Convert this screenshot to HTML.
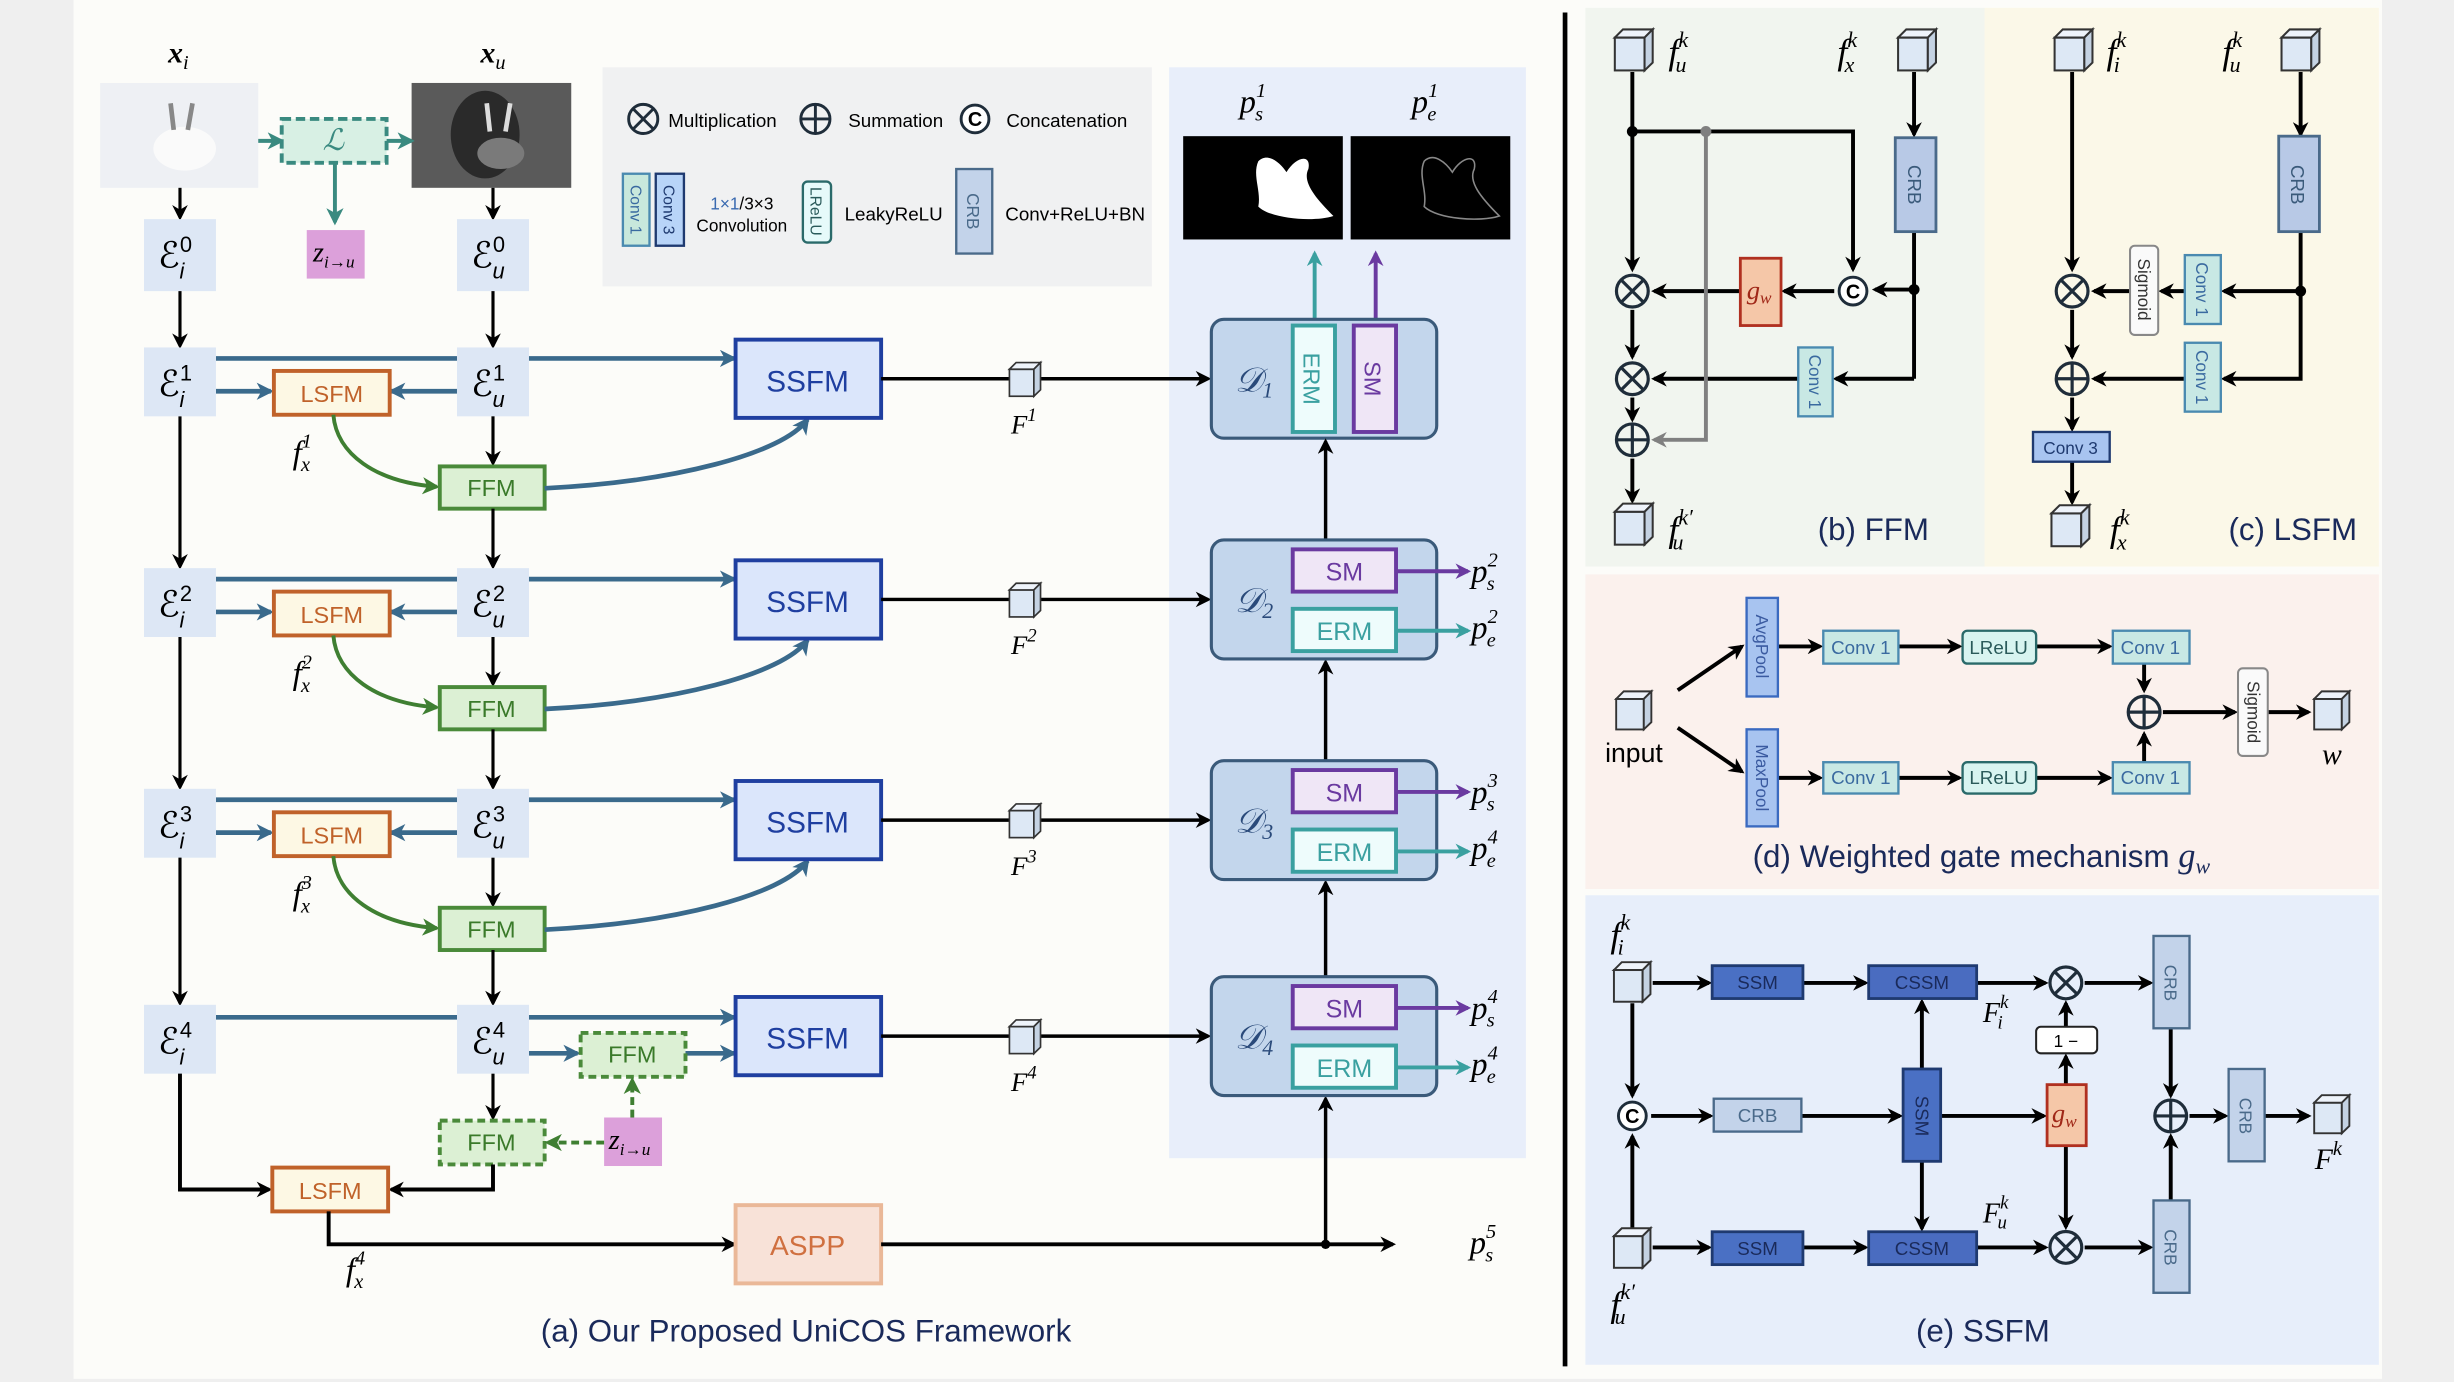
<!DOCTYPE html>
<html><head><meta charset="utf-8"><style>
html,body{margin:0;padding:0;background:#efefef;}
svg{display:block;}
text{font-family:"Liberation Sans",sans-serif;}
.m{font-family:"Liberation Serif",serif;font-style:italic;}
</style></head><body>
<svg width="2454" height="1382" viewBox="0 0 1568 883" preserveAspectRatio="none" xmlns="http://www.w3.org/2000/svg">
<defs>
<marker id="ak" markerWidth="10" markerHeight="10" refX="8" refY="5" orient="auto" markerUnits="userSpaceOnUse"><path d="M0,0 L10,5 L0,10 L3,5z" fill="#000"/></marker>
<marker id="ab" markerWidth="11" markerHeight="11" refX="9" refY="5.5" orient="auto" markerUnits="userSpaceOnUse"><path d="M0,0 L11,5.5 L0,11 L3,5.5z" fill="#3a6a8c"/></marker>
<marker id="ag" markerWidth="11" markerHeight="11" refX="9" refY="5.5" orient="auto" markerUnits="userSpaceOnUse"><path d="M0,0 L11,5.5 L0,11 L3,5.5z" fill="#3f7f32"/></marker>
<marker id="at" markerWidth="11" markerHeight="11" refX="9" refY="5.5" orient="auto" markerUnits="userSpaceOnUse"><path d="M0,0 L11,5.5 L0,11 L3,5.5z" fill="#3a8a80"/></marker>
<marker id="ap" markerWidth="10" markerHeight="10" refX="8" refY="5" orient="auto" markerUnits="userSpaceOnUse"><path d="M0,0 L10,5 L0,10 L3,5z" fill="#6a3aa0"/></marker>
<marker id="ac" markerWidth="10" markerHeight="10" refX="8" refY="5" orient="auto" markerUnits="userSpaceOnUse"><path d="M0,0 L10,5 L0,10 L3,5z" fill="#3aa0a0"/></marker>
<marker id="ay" markerWidth="10" markerHeight="10" refX="8" refY="5" orient="auto" markerUnits="userSpaceOnUse"><path d="M0,0 L10,5 L0,10 L3,5z" fill="#808080"/></marker>
<symbol id="cube" viewBox="0 0 26 28" overflow="visible">
<rect x="0.8" y="6" width="19" height="21" fill="#dde8f5" stroke="#333" stroke-width="1.3"/>
<polygon points="0.8,6 6,0.8 25,0.8 19.8,6" fill="#eef3fa" stroke="#333" stroke-width="1.3"/>
<polygon points="19.8,6 25,0.8 25,22 19.8,27" fill="#c4d2e2" stroke="#333" stroke-width="1.3"/>
</symbol>
<symbol id="otimes" viewBox="-13 -13 26 26" overflow="visible">
<circle r="11" fill="#fff" fill-opacity="0" stroke="#1f2d3a" stroke-width="2.2"/>
<path d="M-7.8,-7.8L7.8,7.8M7.8,-7.8L-7.8,7.8" stroke="#1f2d3a" stroke-width="2.2"/>
</symbol>
<symbol id="oplus" viewBox="-13 -13 26 26" overflow="visible">
<circle r="11" fill="none" stroke="#1f2d3a" stroke-width="2.2"/>
<path d="M-11,0L11,0M0,-11L0,11" stroke="#1f2d3a" stroke-width="2.2"/>
</symbol>
<symbol id="ocon" viewBox="-13 -13 26 26" overflow="visible">
<circle r="10.5" fill="#fff" stroke="#1f2d3a" stroke-width="2.2"/>
<text x="0" y="5.5" text-anchor="middle" font-size="15" font-weight="bold" font-family="Liberation Serif,serif">C</text>
</symbol>
</defs>

<rect x="0" y="0" width="1568" height="883" fill="#efefef"/>
<rect x="47" y="0" width="1475" height="881" fill="#fcfcf9"/>
<rect x="1013" y="5" width="255" height="357" fill="#f1f5ef"/>
<rect x="1268" y="5" width="252" height="357" fill="#fbf8e8"/>
<rect x="1013" y="367" width="507" height="201" fill="#fbf1ed"/>
<rect x="1013" y="572" width="507" height="300" fill="#e7eefa"/>
<rect x="385" y="43" width="351" height="140" fill="#f0f1f2"/>
<rect x="747" y="43" width="228" height="697" fill="#e8eefa"/>
<line x1="1000" y1="8" x2="1000" y2="873" stroke="#000" stroke-width="3"/>

<text class="m" x="114" y="40" text-anchor="middle" font-size="19" font-weight="bold" font-style="normal">x<tspan font-size="13" dy="4" font-style="italic" font-weight="normal">i</tspan></text>
<text class="m" x="315" y="40" text-anchor="middle" font-size="19" font-weight="bold" font-style="normal">x<tspan font-size="13" dy="4" font-style="italic" font-weight="normal">u</tspan></text>
<rect x="64" y="53" width="101" height="67" fill="#eef0f4"/>
<ellipse cx="118" cy="95" rx="20" ry="14" fill="#fafafa"/>
<path d="M111,83 L109,66 M120,83 L123,66" stroke="#888" stroke-width="3"/>
<rect x="263" y="53" width="102" height="67" fill="#5a5a5a"/>
<ellipse cx="310" cy="86" rx="22" ry="28" fill="#2a2a2a"/>
<ellipse cx="320" cy="98" rx="15" ry="10" fill="#7a7a7a"/>
<path d="M313,84 L311,66 M323,84 L326,66" stroke="#ddd" stroke-width="3"/>
<line x1="165" y1="90" x2="180" y2="90" stroke="#3a8a80" stroke-width="2.5" marker-end="url(#at)"/>
<line x1="247" y1="90" x2="263" y2="90" stroke="#3a8a80" stroke-width="2.5" marker-end="url(#at)"/>
<rect x="180" y="76" width="67" height="28" fill="#d8f0e4" stroke="#3a8a80" stroke-width="2.5" stroke-dasharray="6,3"/>
<text class="m" x="213" y="96" text-anchor="middle" font-size="19" fill="#3a8a80">ℒ</text>
<line x1="214" y1="104" x2="214" y2="142" stroke="#3a8a80" stroke-width="2.5" marker-end="url(#at)"/>
<rect x="196" y="147" width="37" height="31" fill="#dca0da"/>
<text class="m" x="200" y="167" font-size="18">z<tspan font-size="11" dy="4">i→u</tspan></text>

<line x1="115" y1="120" x2="115" y2="139" stroke="#000" stroke-width="2" marker-end="url(#ak)"/>
<line x1="315" y1="120" x2="315" y2="139" stroke="#000" stroke-width="2" marker-end="url(#ak)"/>
<rect x="92" y="140" width="46" height="46" fill="#dde7f5"/>
<rect x="292" y="140" width="46" height="46" fill="#dde7f5"/>
<text x="101" y="171" font-size="23" font-family="DejaVu Serif,serif">ℰ<tspan font-size="14" dy="-10">0</tspan><tspan font-size="14" dx="-8" dy="17" font-style="italic">i</tspan></text>
<text x="301" y="171" font-size="23" font-family="DejaVu Serif,serif">ℰ<tspan font-size="14" dy="-10">0</tspan><tspan font-size="14" dx="-8" dy="17" font-style="italic">u</tspan></text>
<line x1="115" y1="186" x2="115" y2="221" stroke="#000" stroke-width="2" marker-end="url(#ak)"/>
<line x1="315" y1="186" x2="315" y2="221" stroke="#000" stroke-width="2" marker-end="url(#ak)"/>

<g>
<line x1="138" y1="229" x2="469" y2="229" stroke="#3a6a8c" stroke-width="3" marker-end="url(#ab)"/>
<line x1="138" y1="250" x2="173" y2="250" stroke="#3a6a8c" stroke-width="3" marker-end="url(#ab)"/>
<line x1="292" y1="250" x2="250" y2="250" stroke="#3a6a8c" stroke-width="3" marker-end="url(#ab)"/>
<rect x="92" y="222" width="46" height="44" fill="#dde7f5"/>
<rect x="292" y="222" width="46" height="44" fill="#dde7f5"/>
<rect x="175" y="237" width="74" height="28" fill="#fdf8e4" stroke="#c0622a" stroke-width="2.5"/>
<text x="212" y="257" text-anchor="middle" font-size="15" fill="#c0622a">LSFM</text>
<path d="M213,265 C215,290 240,308 279,311" fill="none" stroke="#3f7f32" stroke-width="2.5" marker-end="url(#ag)"/>
<text class="m" x="187" y="296" font-size="21">f<tspan font-size="13" dy="-10">1</tspan><tspan font-size="13" dx="-7" dy="15">x</tspan></text>
<line x1="315" y1="266" x2="315" y2="296" stroke="#000" stroke-width="2" marker-end="url(#ak)"/>
<rect x="281" y="298" width="67" height="27" fill="#dcf0d4" stroke="#4a8a3a" stroke-width="2.5"/>
<text x="314" y="317" text-anchor="middle" font-size="15" fill="#3a7a2a">FFM</text>
<path d="M348,312 C430,308 500,290 516,268" fill="none" stroke="#3a6a8c" stroke-width="3" marker-end="url(#ab)"/>
<line x1="315" y1="325" x2="315" y2="362" stroke="#000" stroke-width="2" marker-end="url(#ak)"/>
<line x1="115" y1="266" x2="115" y2="362" stroke="#000" stroke-width="2" marker-end="url(#ak)"/>
<rect x="470" y="217" width="93" height="50" fill="#dbe6fb" stroke="#1f3fa0" stroke-width="2.5"/>
<text x="516" y="250" text-anchor="middle" font-size="19" fill="#1f3fa0">SSFM</text>
<line x1="563" y1="242" x2="772" y2="242" stroke="#000" stroke-width="2.2" marker-end="url(#ak)"/>
<use href="#cube" x="644" y="231" width="22" height="23"/>
<text x="101" y="253" font-size="23" font-family="DejaVu Serif,serif">ℰ<tspan font-size="14" dy="-10">1</tspan><tspan font-size="14" dx="-8" dy="17" font-style="italic">i</tspan></text>
<text x="301" y="253" font-size="23" font-family="DejaVu Serif,serif">ℰ<tspan font-size="14" dy="-10">1</tspan><tspan font-size="14" dx="-8" dy="17" font-style="italic">u</tspan></text>
<text class="m" x="646" y="277" font-size="17">F<tspan font-size="12" dy="-8">1</tspan></text>
</g>

<g transform="translate(0,141)">
<line x1="138" y1="229" x2="469" y2="229" stroke="#3a6a8c" stroke-width="3" marker-end="url(#ab)"/>
<line x1="138" y1="250" x2="173" y2="250" stroke="#3a6a8c" stroke-width="3" marker-end="url(#ab)"/>
<line x1="292" y1="250" x2="250" y2="250" stroke="#3a6a8c" stroke-width="3" marker-end="url(#ab)"/>
<rect x="92" y="222" width="46" height="44" fill="#dde7f5"/>
<rect x="292" y="222" width="46" height="44" fill="#dde7f5"/>
<rect x="175" y="237" width="74" height="28" fill="#fdf8e4" stroke="#c0622a" stroke-width="2.5"/>
<text x="212" y="257" text-anchor="middle" font-size="15" fill="#c0622a">LSFM</text>
<path d="M213,265 C215,290 240,308 279,311" fill="none" stroke="#3f7f32" stroke-width="2.5" marker-end="url(#ag)"/>
<text class="m" x="187" y="296" font-size="21">f<tspan font-size="13" dy="-10">2</tspan><tspan font-size="13" dx="-7" dy="15">x</tspan></text>
<line x1="315" y1="266" x2="315" y2="296" stroke="#000" stroke-width="2" marker-end="url(#ak)"/>
<rect x="281" y="298" width="67" height="27" fill="#dcf0d4" stroke="#4a8a3a" stroke-width="2.5"/>
<text x="314" y="317" text-anchor="middle" font-size="15" fill="#3a7a2a">FFM</text>
<path d="M348,312 C430,308 500,290 516,268" fill="none" stroke="#3a6a8c" stroke-width="3" marker-end="url(#ab)"/>
<line x1="315" y1="325" x2="315" y2="362" stroke="#000" stroke-width="2" marker-end="url(#ak)"/>
<line x1="115" y1="266" x2="115" y2="362" stroke="#000" stroke-width="2" marker-end="url(#ak)"/>
<rect x="470" y="217" width="93" height="50" fill="#dbe6fb" stroke="#1f3fa0" stroke-width="2.5"/>
<text x="516" y="250" text-anchor="middle" font-size="19" fill="#1f3fa0">SSFM</text>
<line x1="563" y1="242" x2="772" y2="242" stroke="#000" stroke-width="2.2" marker-end="url(#ak)"/>
<use href="#cube" x="644" y="231" width="22" height="23"/>
<text x="101" y="253" font-size="23" font-family="DejaVu Serif,serif">ℰ<tspan font-size="14" dy="-10">2</tspan><tspan font-size="14" dx="-8" dy="17" font-style="italic">i</tspan></text>
<text x="301" y="253" font-size="23" font-family="DejaVu Serif,serif">ℰ<tspan font-size="14" dy="-10">2</tspan><tspan font-size="14" dx="-8" dy="17" font-style="italic">u</tspan></text>
<text class="m" x="646" y="277" font-size="17">F<tspan font-size="12" dy="-8">2</tspan></text>
</g>

<g transform="translate(0,282)">
<line x1="138" y1="229" x2="469" y2="229" stroke="#3a6a8c" stroke-width="3" marker-end="url(#ab)"/>
<line x1="138" y1="250" x2="173" y2="250" stroke="#3a6a8c" stroke-width="3" marker-end="url(#ab)"/>
<line x1="292" y1="250" x2="250" y2="250" stroke="#3a6a8c" stroke-width="3" marker-end="url(#ab)"/>
<rect x="92" y="222" width="46" height="44" fill="#dde7f5"/>
<rect x="292" y="222" width="46" height="44" fill="#dde7f5"/>
<rect x="175" y="237" width="74" height="28" fill="#fdf8e4" stroke="#c0622a" stroke-width="2.5"/>
<text x="212" y="257" text-anchor="middle" font-size="15" fill="#c0622a">LSFM</text>
<path d="M213,265 C215,290 240,308 279,311" fill="none" stroke="#3f7f32" stroke-width="2.5" marker-end="url(#ag)"/>
<text class="m" x="187" y="296" font-size="21">f<tspan font-size="13" dy="-10">3</tspan><tspan font-size="13" dx="-7" dy="15">x</tspan></text>
<line x1="315" y1="266" x2="315" y2="296" stroke="#000" stroke-width="2" marker-end="url(#ak)"/>
<rect x="281" y="298" width="67" height="27" fill="#dcf0d4" stroke="#4a8a3a" stroke-width="2.5"/>
<text x="314" y="317" text-anchor="middle" font-size="15" fill="#3a7a2a">FFM</text>
<path d="M348,312 C430,308 500,290 516,268" fill="none" stroke="#3a6a8c" stroke-width="3" marker-end="url(#ab)"/>
<line x1="315" y1="325" x2="315" y2="359" stroke="#000" stroke-width="2" marker-end="url(#ak)"/>
<line x1="115" y1="266" x2="115" y2="359" stroke="#000" stroke-width="2" marker-end="url(#ak)"/>
<rect x="470" y="217" width="93" height="50" fill="#dbe6fb" stroke="#1f3fa0" stroke-width="2.5"/>
<text x="516" y="250" text-anchor="middle" font-size="19" fill="#1f3fa0">SSFM</text>
<line x1="563" y1="242" x2="772" y2="242" stroke="#000" stroke-width="2.2" marker-end="url(#ak)"/>
<use href="#cube" x="644" y="231" width="22" height="23"/>
<text x="101" y="253" font-size="23" font-family="DejaVu Serif,serif">ℰ<tspan font-size="14" dy="-10">3</tspan><tspan font-size="14" dx="-8" dy="17" font-style="italic">i</tspan></text>
<text x="301" y="253" font-size="23" font-family="DejaVu Serif,serif">ℰ<tspan font-size="14" dy="-10">3</tspan><tspan font-size="14" dx="-8" dy="17" font-style="italic">u</tspan></text>
<text class="m" x="646" y="277" font-size="17">F<tspan font-size="12" dy="-8">3</tspan></text>
</g>

<line x1="138" y1="650" x2="469" y2="650" stroke="#3a6a8c" stroke-width="3" marker-end="url(#ab)"/>
<line x1="338" y1="673" x2="369" y2="673" stroke="#3a6a8c" stroke-width="3" marker-end="url(#ab)"/>
<line x1="438" y1="673" x2="469" y2="673" stroke="#3a6a8c" stroke-width="3" marker-end="url(#ab)"/>
<rect x="92" y="642" width="46" height="44" fill="#dde7f5"/>
<rect x="292" y="642" width="46" height="44" fill="#dde7f5"/>
<text x="101" y="673" font-size="23" font-family="DejaVu Serif,serif">ℰ<tspan font-size="14" dy="-10">4</tspan><tspan font-size="14" dx="-8" dy="17" font-style="italic">i</tspan></text>
<text x="301" y="673" font-size="23" font-family="DejaVu Serif,serif">ℰ<tspan font-size="14" dy="-10">4</tspan><tspan font-size="14" dx="-8" dy="17" font-style="italic">u</tspan></text>
<rect x="371" y="660" width="67" height="28" fill="#dcf0d4" stroke="#4a8a3a" stroke-width="2.5" stroke-dasharray="5,3"/>
<text x="404" y="679" text-anchor="middle" font-size="15" fill="#3a7a2a">FFM</text>
<line x1="315" y1="686" x2="315" y2="714" stroke="#000" stroke-width="2" marker-end="url(#ak)"/>
<rect x="281" y="716" width="67" height="28" fill="#dcf0d4" stroke="#4a8a3a" stroke-width="2.5" stroke-dasharray="5,3"/>
<text x="314" y="735" text-anchor="middle" font-size="15" fill="#3a7a2a">FFM</text>
<rect x="386" y="714" width="37" height="31" fill="#dca0da"/>
<text class="m" x="389" y="734" font-size="18">z<tspan font-size="11" dy="4">i→u</tspan></text>
<line x1="404" y1="714" x2="404" y2="690" stroke="#3f7f32" stroke-width="2.5" stroke-dasharray="5,3" marker-end="url(#ag)"/>
<line x1="386" y1="730" x2="350" y2="730" stroke="#3f7f32" stroke-width="2.5" stroke-dasharray="5,3" marker-end="url(#ag)"/>
<polyline points="115,686 115,760 172,760" fill="none" stroke="#000" stroke-width="2.5" marker-end="url(#ak)"/>
<polyline points="315,744 315,760 250,760" fill="none" stroke="#000" stroke-width="2.5" marker-end="url(#ak)"/>
<rect x="174" y="746" width="74" height="28" fill="#fdf8e4" stroke="#c0622a" stroke-width="2.5"/>
<text x="211" y="766" text-anchor="middle" font-size="15" fill="#c0622a">LSFM</text>
<polyline points="210,774 210,795 469,795" fill="none" stroke="#000" stroke-width="2.5" marker-end="url(#ak)"/>
<text class="m" x="221" y="818" font-size="21">f<tspan font-size="13" dy="-10">4</tspan><tspan font-size="13" dx="-7" dy="15">x</tspan></text>
<rect x="470" y="637" width="93" height="50" fill="#dbe6fb" stroke="#1f3fa0" stroke-width="2.5"/>
<text x="516" y="670" text-anchor="middle" font-size="19" fill="#1f3fa0">SSFM</text>
<line x1="563" y1="662" x2="772" y2="662" stroke="#000" stroke-width="2.2" marker-end="url(#ak)"/>
<use href="#cube" x="644" y="651" width="22" height="23"/>
<text class="m" x="646" y="697" font-size="17">F<tspan font-size="12" dy="-8">4</tspan></text>
<rect x="470" y="770" width="93" height="50" fill="#f8e2d8" stroke="#eab898" stroke-width="2.5"/>
<text x="516" y="802" text-anchor="middle" font-size="18" fill="#d07040">ASPP</text>
<line x1="563" y1="795" x2="890" y2="795" stroke="#000" stroke-width="2.5" marker-end="url(#ak)"/>
<circle cx="847" cy="795" r="3" fill="#000"/>
<line x1="847" y1="795" x2="847" y2="702" stroke="#000" stroke-width="2.2" marker-end="url(#ak)"/>
<text class="m" x="939" y="801" font-size="21">p<tspan font-size="13" dy="-10">5</tspan><tspan font-size="13" dx="-7" dy="15">s</tspan></text>

<text class="m" x="792" y="72" font-size="21">p<tspan font-size="13" dy="-10">1</tspan><tspan font-size="13" dx="-7" dy="15">s</tspan></text>
<text class="m" x="902" y="72" font-size="21">p<tspan font-size="13" dy="-10">1</tspan><tspan font-size="13" dx="-7" dy="15">e</tspan></text>
<rect x="756" y="87" width="102" height="66" fill="#000"/>
<rect x="863" y="87" width="102" height="66" fill="#000"/>
<path d="M804,103 C810,97 818,104 822,110 C828,100 838,98 836,108 C832,116 840,126 852,138 C840,142 812,140 804,132 C806,122 800,112 804,103z" fill="#fff"/>
<path d="M910,103 C916,97 924,104 928,110 C934,100 944,98 942,108 C938,116 946,126 958,138 C946,142 918,140 910,132 C912,122 906,112 910,103z" fill="none" stroke="#888" stroke-width="1"/>
<line x1="840" y1="204" x2="840" y2="162" stroke="#3aa0a0" stroke-width="2.5" marker-end="url(#ac)"/>
<line x1="879" y1="204" x2="879" y2="162" stroke="#6a3aa0" stroke-width="2.5" marker-end="url(#ap)"/>
<rect x="774" y="204" width="144" height="76" rx="8" fill="#c3d6ec" stroke="#3a5a7a" stroke-width="2"/>
<text class="m" x="789" y="250" font-size="22" fill="#2a4a7a">𝒟<tspan font-size="14" dy="4">1</tspan></text>
<rect x="826" y="208" width="27" height="68" fill="#eefcfc" stroke="#3aa0a0" stroke-width="2.5"/>
<text transform="translate(833,242) rotate(90)" text-anchor="middle" font-size="15" fill="#3aa0a0">ERM</text>
<rect x="865" y="208" width="27" height="68" fill="#efe6f6" stroke="#6a3aa0" stroke-width="2.5"/>
<text transform="translate(872,242) rotate(90)" text-anchor="middle" font-size="15" fill="#6a3aa0">SM</text>
<line x1="847" y1="345" x2="847" y2="282" stroke="#000" stroke-width="2.2" marker-end="url(#ak)"/>
<line x1="847" y1="486" x2="847" y2="423" stroke="#000" stroke-width="2.2" marker-end="url(#ak)"/>
<line x1="847" y1="624" x2="847" y2="564" stroke="#000" stroke-width="2.2" marker-end="url(#ak)"/>

<g>
<rect x="774" y="345" width="144" height="76" rx="8" fill="#c3d6ec" stroke="#3a5a7a" stroke-width="2"/>
<text class="m" x="789" y="391" font-size="22" fill="#2a4a7a">𝒟<tspan font-size="14" dy="4">2</tspan></text>
<rect x="826" y="351" width="66" height="27" fill="#efe6f6" stroke="#6a3aa0" stroke-width="2.5"/>
<text x="859" y="371" text-anchor="middle" font-size="16" fill="#6a3aa0">SM</text>
<rect x="826" y="389" width="66" height="27" fill="#eefcfc" stroke="#3aa0a0" stroke-width="2.5"/>
<text x="859" y="409" text-anchor="middle" font-size="16" fill="#3aa0a0">ERM</text>
<line x1="892" y1="365" x2="938" y2="365" stroke="#6a3aa0" stroke-width="2.5" marker-end="url(#ap)"/>
<line x1="892" y1="403" x2="938" y2="403" stroke="#3aa0a0" stroke-width="2.5" marker-end="url(#ac)"/>
<text class="m" x="940" y="372" font-size="21">p<tspan font-size="13" dy="-10">2</tspan><tspan font-size="13" dx="-7" dy="15">s</tspan></text>
<text class="m" x="940" y="408" font-size="21">p<tspan font-size="13" dy="-10">2</tspan><tspan font-size="13" dx="-7" dy="15">e</tspan></text>
</g>
<g transform="translate(0,141)">
<rect x="774" y="345" width="144" height="76" rx="8" fill="#c3d6ec" stroke="#3a5a7a" stroke-width="2"/>
<text class="m" x="789" y="391" font-size="22" fill="#2a4a7a">𝒟<tspan font-size="14" dy="4">3</tspan></text>
<rect x="826" y="351" width="66" height="27" fill="#efe6f6" stroke="#6a3aa0" stroke-width="2.5"/>
<text x="859" y="371" text-anchor="middle" font-size="16" fill="#6a3aa0">SM</text>
<rect x="826" y="389" width="66" height="27" fill="#eefcfc" stroke="#3aa0a0" stroke-width="2.5"/>
<text x="859" y="409" text-anchor="middle" font-size="16" fill="#3aa0a0">ERM</text>
<line x1="892" y1="365" x2="938" y2="365" stroke="#6a3aa0" stroke-width="2.5" marker-end="url(#ap)"/>
<line x1="892" y1="403" x2="938" y2="403" stroke="#3aa0a0" stroke-width="2.5" marker-end="url(#ac)"/>
<text class="m" x="940" y="372" font-size="21">p<tspan font-size="13" dy="-10">3</tspan><tspan font-size="13" dx="-7" dy="15">s</tspan></text>
<text class="m" x="940" y="408" font-size="21">p<tspan font-size="13" dy="-10">4</tspan><tspan font-size="13" dx="-7" dy="15">e</tspan></text>
</g>
<g transform="translate(0,279)">
<rect x="774" y="345" width="144" height="76" rx="8" fill="#c3d6ec" stroke="#3a5a7a" stroke-width="2"/>
<text class="m" x="789" y="391" font-size="22" fill="#2a4a7a">𝒟<tspan font-size="14" dy="4">4</tspan></text>
<rect x="826" y="351" width="66" height="27" fill="#efe6f6" stroke="#6a3aa0" stroke-width="2.5"/>
<text x="859" y="371" text-anchor="middle" font-size="16" fill="#6a3aa0">SM</text>
<rect x="826" y="389" width="66" height="27" fill="#eefcfc" stroke="#3aa0a0" stroke-width="2.5"/>
<text x="859" y="409" text-anchor="middle" font-size="16" fill="#3aa0a0">ERM</text>
<line x1="892" y1="365" x2="938" y2="365" stroke="#6a3aa0" stroke-width="2.5" marker-end="url(#ap)"/>
<line x1="892" y1="403" x2="938" y2="403" stroke="#3aa0a0" stroke-width="2.5" marker-end="url(#ac)"/>
<text class="m" x="940" y="372" font-size="21">p<tspan font-size="13" dy="-10">4</tspan><tspan font-size="13" dx="-7" dy="15">s</tspan></text>
<text class="m" x="940" y="408" font-size="21">p<tspan font-size="13" dy="-10">4</tspan><tspan font-size="13" dx="-7" dy="15">e</tspan></text>
</g>
<text x="515" y="857" text-anchor="middle" font-size="20" fill="#1a2a5a">(a) Our Proposed UniCOS Framework</text>

<use href="#otimes" x="400" y="65" width="22" height="22"/>
<text x="427" y="81" font-size="12">Multiplication</text>
<use href="#oplus" x="510" y="65" width="22" height="22"/>
<text x="542" y="81" font-size="12">Summation</text>
<use href="#ocon" x="612" y="65" width="22" height="22"/>
<text x="643" y="81" font-size="12">Concatenation</text>
<rect x="398" y="111" width="17" height="46" fill="#c8e8dc" stroke="#4a8ab0" stroke-width="1.5"/>
<text transform="translate(403,134) rotate(90)" text-anchor="middle" font-size="10" fill="#3a6aa0">Conv 1</text>
<rect x="419" y="111" width="18" height="46" fill="#b8d4f8" stroke="#1f3a70" stroke-width="1.5"/>
<text transform="translate(424,134) rotate(90)" text-anchor="middle" font-size="10" fill="#1f3a70">Conv 3</text>
<text x="474" y="134" text-anchor="middle" font-size="11"><tspan fill="#3a6ab0">1×1</tspan>/3×3</text>
<text x="474" y="148" text-anchor="middle" font-size="11">Convolution</text>
<rect x="513" y="116" width="18" height="39" rx="3" fill="#e6fafa" stroke="#2a6a6a" stroke-width="1.5"/>
<text transform="translate(518,135) rotate(90)" text-anchor="middle" font-size="10" fill="#2a5a5a">LReLU</text>
<text x="571" y="141" text-anchor="middle" font-size="12">LeakyReLU</text>
<rect x="611" y="108" width="23" height="54" fill="#c3d3ea" stroke="#4a6a8a" stroke-width="1.5"/>
<text transform="translate(618,135) rotate(90)" text-anchor="middle" font-size="11" fill="#4a6a8a">CRB</text>
<text x="687" y="141" text-anchor="middle" font-size="12">Conv+ReLU+BN</text>

<g stroke="#000" stroke-width="2.5" fill="none">
<line x1="1043" y1="46" x2="1043" y2="172" marker-end="url(#ak)"/>
<polyline points="1043,84 1184,84 1184,172" marker-end="url(#ak)"/>
<line x1="1223" y1="46" x2="1223" y2="86" marker-end="url(#ak)"/>
<line x1="1223" y1="148" x2="1223" y2="242"/>
<line x1="1223" y1="185" x2="1198" y2="185" marker-end="url(#ak)"/>
<line x1="1172" y1="186" x2="1140" y2="186" marker-end="url(#ak)"/>
<line x1="1112" y1="186" x2="1057" y2="186" marker-end="url(#ak)"/>
<line x1="1043" y1="198" x2="1043" y2="228" marker-end="url(#ak)"/>
<line x1="1223" y1="242" x2="1173" y2="242" marker-end="url(#ak)"/>
<line x1="1149" y1="242" x2="1057" y2="242" marker-end="url(#ak)"/>
<line x1="1043" y1="254" x2="1043" y2="268" marker-end="url(#ak)"/>
<line x1="1043" y1="293" x2="1043" y2="320" marker-end="url(#ak)"/>
</g>
<polyline points="1090,84 1090,281 1057,281" fill="none" stroke="#808080" stroke-width="2.5" marker-end="url(#ay)"/>
<circle cx="1043" cy="84" r="3.5"/><circle cx="1090" cy="84" r="3.5" fill="#808080"/><circle cx="1223" cy="185" r="3.5"/>
<use href="#cube" x="1031" y="18" width="26" height="28"/>
<use href="#cube" x="1212" y="18" width="26" height="28"/>
<use href="#cube" x="1031" y="321" width="26" height="28"/>
<text class="m" x="1066" y="41" font-size="23">f<tspan font-size="14" dy="-11">k</tspan><tspan font-size="14" dx="-8" dy="16">u</tspan></text>
<text class="m" x="1174" y="41" font-size="23">f<tspan font-size="14" dy="-11">k</tspan><tspan font-size="14" dx="-8" dy="16">x</tspan></text>
<text class="m" x="1066" y="346" font-size="23">f<tspan font-size="14" dy="-11">k′</tspan><tspan font-size="14" dx="-13" dy="16">u</tspan></text>
<rect x="1211" y="88" width="26" height="60" fill="#b8c9e6" stroke="#4a6a8a" stroke-width="1.8"/>
<text transform="translate(1219,118) rotate(90)" text-anchor="middle" font-size="12" fill="#3a5a7a">CRB</text>
<rect x="1112" y="165" width="26" height="43" fill="#f5c7a8" stroke="#b03020" stroke-width="1.8"/>
<text class="m" x="1124" y="191" text-anchor="middle" font-size="17" fill="#a02818">g<tspan font-size="11" dy="3">w</tspan></text>
<use href="#ocon" x="1173" y="175" width="22" height="22"/>
<rect x="1149" y="222" width="22" height="44" fill="#c8e8e4" stroke="#4a8ab0" stroke-width="1.5"/>
<text transform="translate(1156,244) rotate(90)" text-anchor="middle" font-size="11" fill="#3a6aa0">Conv 1</text>
<use href="#otimes" x="1031" y="174" width="24" height="24"/>
<use href="#otimes" x="1031" y="230" width="24" height="24"/>
<use href="#oplus" x="1031" y="269" width="24" height="24"/>
<text x="1197" y="345" text-anchor="middle" font-size="20" fill="#1a2a5a">(b) FFM</text>

<g stroke="#000" stroke-width="2.5" fill="none">
<line x1="1324" y1="46" x2="1324" y2="172" marker-end="url(#ak)"/>
<line x1="1470" y1="46" x2="1470" y2="86" marker-end="url(#ak)"/>
<polyline points="1470,148 1470,242 1421,242" marker-end="url(#ak)"/>
<line x1="1470" y1="186" x2="1421" y2="186" marker-end="url(#ak)"/>
<line x1="1396" y1="186" x2="1381" y2="186" marker-end="url(#ak)"/>
<line x1="1361" y1="186" x2="1338" y2="186" marker-end="url(#ak)"/>
<line x1="1396" y1="242" x2="1338" y2="242" marker-end="url(#ak)"/>
<line x1="1324" y1="198" x2="1324" y2="228" marker-end="url(#ak)"/>
<line x1="1324" y1="254" x2="1324" y2="274" marker-end="url(#ak)"/>
<line x1="1324" y1="290" x2="1324" y2="321" marker-end="url(#ak)"/>
</g>
<circle cx="1470" cy="186" r="3.5"/>
<use href="#cube" x="1312" y="18" width="26" height="28"/>
<use href="#cube" x="1457" y="18" width="26" height="28"/>
<use href="#cube" x="1310" y="322" width="26" height="28"/>
<text class="m" x="1346" y="41" font-size="23">f<tspan font-size="14" dy="-11">k</tspan><tspan font-size="14" dx="-8" dy="16">i</tspan></text>
<text class="m" x="1420" y="41" font-size="23">f<tspan font-size="14" dy="-11">k</tspan><tspan font-size="14" dx="-8" dy="16">u</tspan></text>
<text class="m" x="1348" y="346" font-size="23">f<tspan font-size="14" dy="-11">k</tspan><tspan font-size="14" dx="-8" dy="16">x</tspan></text>
<rect x="1456" y="87" width="26" height="61" fill="#b8c9e6" stroke="#4a6a8a" stroke-width="1.8"/>
<text transform="translate(1464,118) rotate(90)" text-anchor="middle" font-size="12" fill="#3a5a7a">CRB</text>
<rect x="1361" y="157" width="18" height="57" rx="3" fill="#fafafa" stroke="#888" stroke-width="1.3"/>
<text transform="translate(1366,185) rotate(90)" text-anchor="middle" font-size="11" fill="#333">Sigmoid</text>
<rect x="1396" y="163" width="23" height="44" fill="#c8e8e4" stroke="#4a8ab0" stroke-width="1.5"/>
<text transform="translate(1403,185) rotate(90)" text-anchor="middle" font-size="11" fill="#3a6aa0">Conv 1</text>
<rect x="1396" y="219" width="23" height="44" fill="#c8e8e4" stroke="#4a8ab0" stroke-width="1.5"/>
<text transform="translate(1403,241) rotate(90)" text-anchor="middle" font-size="11" fill="#3a6aa0">Conv 1</text>
<rect x="1299" y="276" width="49" height="19" fill="#a8c4f0" stroke="#1f3a70" stroke-width="1.5"/>
<text x="1323" y="290" text-anchor="middle" font-size="11" fill="#1f3a70">Conv 3</text>
<use href="#otimes" x="1312" y="174" width="24" height="24"/>
<use href="#oplus" x="1312" y="230" width="24" height="24"/>
<text x="1465" y="345" text-anchor="middle" font-size="20" fill="#1a2a5a">(c) LSFM</text>

<g stroke="#000" stroke-width="2.5" fill="none">
<line x1="1072" y1="441" x2="1113" y2="413" marker-end="url(#ak)"/>
<line x1="1072" y1="465" x2="1113" y2="493" marker-end="url(#ak)"/>
<line x1="1136" y1="413" x2="1163" y2="413" marker-end="url(#ak)"/>
<line x1="1213" y1="413" x2="1252" y2="413" marker-end="url(#ak)"/>
<line x1="1301" y1="413" x2="1348" y2="413" marker-end="url(#ak)"/>
<line x1="1136" y1="497" x2="1163" y2="497" marker-end="url(#ak)"/>
<line x1="1213" y1="497" x2="1252" y2="497" marker-end="url(#ak)"/>
<line x1="1301" y1="497" x2="1348" y2="497" marker-end="url(#ak)"/>
<line x1="1370" y1="424" x2="1370" y2="441" marker-end="url(#ak)"/>
<line x1="1370" y1="487" x2="1370" y2="469" marker-end="url(#ak)"/>
<line x1="1382" y1="455" x2="1428" y2="455" marker-end="url(#ak)"/>
<line x1="1449" y1="455" x2="1475" y2="455" marker-end="url(#ak)"/>
</g>
<use href="#cube" x="1031" y="441" width="26" height="26"/>
<text x="1044" y="487" text-anchor="middle" font-size="17" font-family="Liberation Serif,serif">input</text>
<rect x="1116" y="382" width="20" height="63" fill="#a8c4f0" stroke="#3a6ac0" stroke-width="1.5"/>
<text transform="translate(1122,413) rotate(90)" text-anchor="middle" font-size="11" fill="#3a5aa0">AvgPool</text>
<rect x="1116" y="466" width="20" height="62" fill="#a8c4f0" stroke="#3a6ac0" stroke-width="1.5"/>
<text transform="translate(1122,497) rotate(90)" text-anchor="middle" font-size="11" fill="#3a5aa0">MaxPool</text>
<rect x="1165" y="403" width="48" height="21" fill="#c8e8e4" stroke="#4a8ab0" stroke-width="1.5"/>
<text x="1189" y="418" text-anchor="middle" font-size="12" fill="#3a6aa0">Conv 1</text>
<rect x="1254" y="403" width="47" height="21" rx="3" fill="#d8f4f0" stroke="#2a6a6a" stroke-width="1.5"/>
<text x="1277" y="418" text-anchor="middle" font-size="12" fill="#2a5a5a">LReLU</text>
<rect x="1350" y="403" width="49" height="21" fill="#c8e8e4" stroke="#4a8ab0" stroke-width="1.5"/>
<text x="1374" y="418" text-anchor="middle" font-size="12" fill="#3a6aa0">Conv 1</text>
<rect x="1165" y="487" width="48" height="20" fill="#c8e8e4" stroke="#4a8ab0" stroke-width="1.5"/>
<text x="1189" y="501" text-anchor="middle" font-size="12" fill="#3a6aa0">Conv 1</text>
<rect x="1254" y="487" width="47" height="20" rx="3" fill="#d8f4f0" stroke="#2a6a6a" stroke-width="1.5"/>
<text x="1277" y="501" text-anchor="middle" font-size="12" fill="#2a5a5a">LReLU</text>
<rect x="1350" y="487" width="49" height="20" fill="#c8e8e4" stroke="#4a8ab0" stroke-width="1.5"/>
<text x="1374" y="501" text-anchor="middle" font-size="12" fill="#3a6aa0">Conv 1</text>
<use href="#oplus" x="1358" y="443" width="24" height="24"/>
<rect x="1430" y="427" width="19" height="56" rx="3" fill="#fafafa" stroke="#888" stroke-width="1.3"/>
<text transform="translate(1436,455) rotate(90)" text-anchor="middle" font-size="11" fill="#333">Sigmoid</text>
<use href="#cube" x="1477" y="441" width="26" height="26"/>
<text class="m" x="1490" y="488" text-anchor="middle" font-size="19">w</text>
<text x="1266" y="554" text-anchor="middle" font-size="20" fill="#1a2a5a">(d) Weighted gate mechanism <tspan font-family="Liberation Serif,serif" font-style="italic" font-size="22">g<tspan font-size="14" dy="4">w</tspan></tspan></text>

<g stroke="#000" stroke-width="2.5" fill="none">
<line x1="1056" y1="628" x2="1092" y2="628" marker-end="url(#ak)"/>
<line x1="1152" y1="628" x2="1192" y2="628" marker-end="url(#ak)"/>
<line x1="1263" y1="628" x2="1307" y2="628" marker-end="url(#ak)"/>
<line x1="1332" y1="628" x2="1374" y2="628" marker-end="url(#ak)"/>
<line x1="1056" y1="797" x2="1092" y2="797" marker-end="url(#ak)"/>
<line x1="1152" y1="797" x2="1192" y2="797" marker-end="url(#ak)"/>
<line x1="1263" y1="797" x2="1307" y2="797" marker-end="url(#ak)"/>
<line x1="1332" y1="797" x2="1374" y2="797" marker-end="url(#ak)"/>
<line x1="1043" y1="641" x2="1043" y2="700" marker-end="url(#ak)"/>
<line x1="1043" y1="786" x2="1043" y2="726" marker-end="url(#ak)"/>
<line x1="1055" y1="713" x2="1093" y2="713" marker-end="url(#ak)"/>
<line x1="1151" y1="713" x2="1214" y2="713" marker-end="url(#ak)"/>
<line x1="1240" y1="713" x2="1306" y2="713" marker-end="url(#ak)"/>
<line x1="1228" y1="683" x2="1228" y2="640" marker-end="url(#ak)"/>
<line x1="1228" y1="742" x2="1228" y2="785" marker-end="url(#ak)"/>
<line x1="1320" y1="693" x2="1320" y2="675" marker-end="url(#ak)"/>
<line x1="1320" y1="656" x2="1320" y2="641" marker-end="url(#ak)"/>
<line x1="1320" y1="732" x2="1320" y2="784" marker-end="url(#ak)"/>
<line x1="1387" y1="657" x2="1387" y2="700" marker-end="url(#ak)"/>
<line x1="1387" y1="767" x2="1387" y2="726" marker-end="url(#ak)"/>
<line x1="1399" y1="713" x2="1422" y2="713" marker-end="url(#ak)"/>
<line x1="1447" y1="713" x2="1475" y2="713" marker-end="url(#ak)"/>
</g>
<use href="#cube" x="1030" y="614" width="26" height="27"/>
<use href="#cube" x="1030" y="784" width="26" height="27"/>
<use href="#cube" x="1477" y="699" width="26" height="26"/>
<text class="m" x="1029" y="605" font-size="23">f<tspan font-size="14" dy="-11">k</tspan><tspan font-size="14" dx="-8" dy="16">i</tspan></text>
<text class="m" x="1029" y="841" font-size="23">f<tspan font-size="14" dy="-11">k′</tspan><tspan font-size="14" dx="-13" dy="16">u</tspan></text>
<text class="m" x="1479" y="747" font-size="19">F<tspan font-size="13" dy="-9">k</tspan></text>
<text class="m" x="1267" y="653" font-size="18">F<tspan font-size="12" dy="-9">k</tspan><tspan font-size="12" dx="-7" dy="13">i</tspan></text>
<text class="m" x="1267" y="781" font-size="18">F<tspan font-size="12" dy="-9">k</tspan><tspan font-size="12" dx="-7" dy="13">u</tspan></text>
<rect x="1094" y="617" width="58" height="21" fill="#4a70c4" stroke="#1f3a70" stroke-width="1.8"/>
<text x="1123" y="632" text-anchor="middle" font-size="12" fill="#1a2a5a">SSM</text>
<rect x="1194" y="617" width="69" height="21" fill="#4a6cc0" stroke="#1f3a70" stroke-width="1.8"/>
<text x="1228" y="632" text-anchor="middle" font-size="12" fill="#1a2a5a">CSSM</text>
<rect x="1094" y="787" width="58" height="21" fill="#4a70c4" stroke="#1f3a70" stroke-width="1.8"/>
<text x="1123" y="802" text-anchor="middle" font-size="12" fill="#1a2a5a">SSM</text>
<rect x="1194" y="787" width="69" height="21" fill="#4a6cc0" stroke="#1f3a70" stroke-width="1.8"/>
<text x="1228" y="802" text-anchor="middle" font-size="12" fill="#1a2a5a">CSSM</text>
<rect x="1095" y="702" width="56" height="21" fill="#c3d3ea" stroke="#4a6a8a" stroke-width="1.5"/>
<text x="1123" y="717" text-anchor="middle" font-size="12" fill="#4a6a8a">CRB</text>
<rect x="1216" y="683" width="24" height="59" fill="#4a70c4" stroke="#1f3a70" stroke-width="1.8"/>
<text transform="translate(1224,713) rotate(90)" text-anchor="middle" font-size="12" fill="#1a2a5a">SSM</text>
<rect x="1308" y="693" width="25" height="39" fill="#f5c7a8" stroke="#b03020" stroke-width="1.8"/>
<text class="m" x="1319" y="717" text-anchor="middle" font-size="17" fill="#a02818">g<tspan font-size="11" dy="3">w</tspan></text>
<rect x="1301" y="656" width="39" height="17" rx="3" fill="#fff" stroke="#222" stroke-width="1.3"/>
<text x="1320" y="669" text-anchor="middle" font-size="11">1 −</text>
<rect x="1376" y="598" width="23" height="59" fill="#c3d3ea" stroke="#4a6a8a" stroke-width="1.5"/>
<text transform="translate(1383,628) rotate(90)" text-anchor="middle" font-size="11" fill="#4a6a8a">CRB</text>
<rect x="1376" y="767" width="23" height="59" fill="#c3d3ea" stroke="#4a6a8a" stroke-width="1.5"/>
<text transform="translate(1383,797) rotate(90)" text-anchor="middle" font-size="11" fill="#4a6a8a">CRB</text>
<rect x="1424" y="683" width="23" height="59" fill="#c3d3ea" stroke="#4a6a8a" stroke-width="1.5"/>
<text transform="translate(1431,713) rotate(90)" text-anchor="middle" font-size="11" fill="#4a6a8a">CRB</text>
<use href="#ocon" x="1032" y="702" width="22" height="22"/>
<use href="#otimes" x="1308" y="616" width="24" height="24"/>
<use href="#otimes" x="1308" y="785" width="24" height="24"/>
<use href="#oplus" x="1375" y="701" width="24" height="24"/>
<text x="1267" y="857" text-anchor="middle" font-size="20" fill="#1a2a5a">(e) SSFM</text>
</svg>
</body></html>
